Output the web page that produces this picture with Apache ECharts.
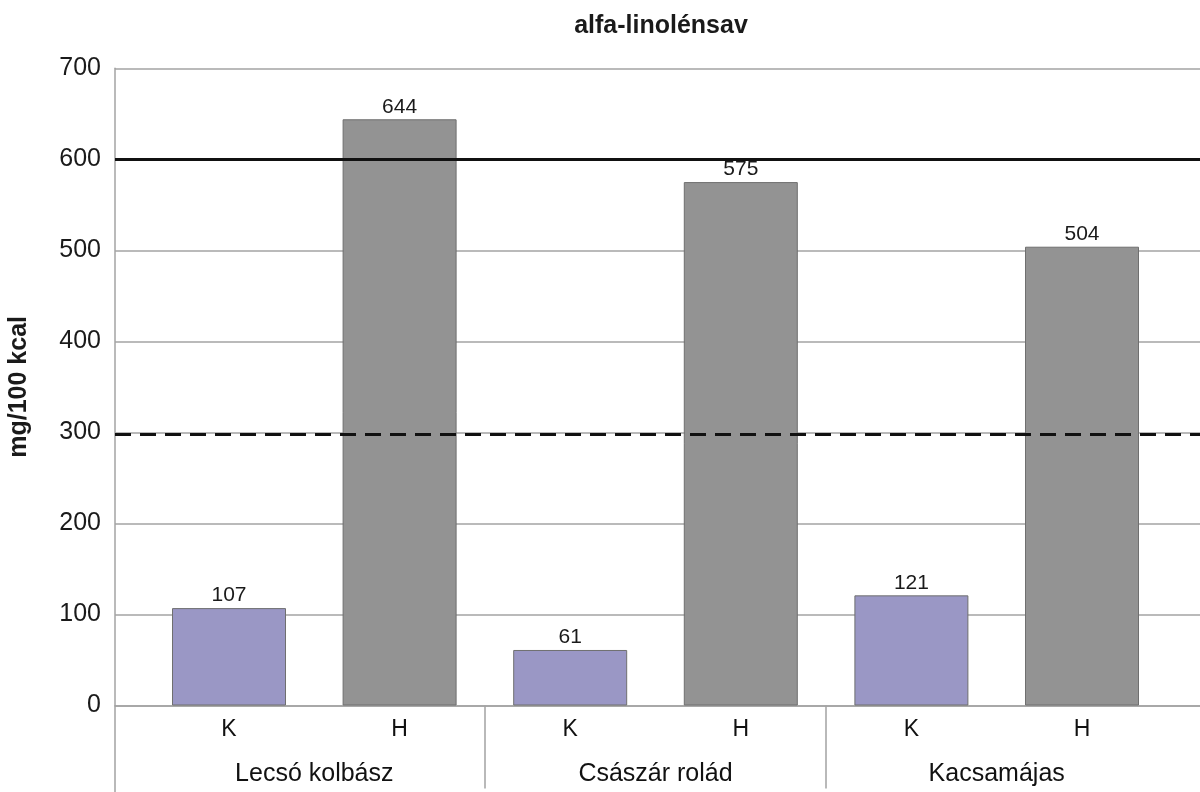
<!DOCTYPE html>
<html>
<head>
<meta charset="utf-8">
<script src="https://cdn.jsdelivr.net/npm/echarts@6/dist/echarts.min.js"></script>
<style>
  html, body { margin: 0; padding: 0; background: #fff; }
  #chart { width: 1200px; height: 792px; }
</style>
</head>
<body>
<div id="chart"></div>
<script>
// alfa-linolénsav tartalom, mg/100 kcal
const groups = ['Lecsó kolbász', 'Császár rolád', 'Kacsamájas'];
const subCategories = ['K', 'H', 'K', 'H', 'K', 'H'];
const values = [107, 644, 61, 575, 121, 504];
const referenceLevels = [600, 298];   // solid, dashed
const yTicks = { min: 0, max: 700, step: 100 };

const FONT = '"Liberation Sans", Arial, Helvetica, sans-serif';
const TOP = 68.3, HEIGHT = 637.2;
const SLOT_LEFT = 143.7, SLOT_W = 170.6;   // one bar slot
const GROUP_W = SLOT_W * 2;

const chart = echarts.init(document.getElementById('chart'), null, { renderer: 'canvas' });

const hiddenY = (gi) => ({
  type: 'value', gridIndex: gi, min: yTicks.min, max: yTicks.max, interval: yTicks.step, show: false
});
const gridBase = { top: TOP, height: HEIGHT, containLabel: false, outerBoundsMode: 'none' };

chart.setOption({
  backgroundColor: '#ffffff',
  animation: false,
  title: {
    text: 'alfa-linolénsav',
    left: 656, top: 9, textAlign: 'center',
    textStyle: { fontFamily: FONT, fontSize: 25, fontWeight: 'bold', color: '#1a1a1a' }
  },
  grid: [
    // frame: axis, gridlines, reference lines
    Object.assign({ left: 115, right: -5 }, gridBase),
    // bars
    Object.assign({ left: SLOT_LEFT, width: SLOT_W * subCategories.length }, gridBase),
    // group labels and separators (one spare slot on the right, off canvas)
    Object.assign({ left: SLOT_LEFT, width: GROUP_W * (groups.length + 1) }, gridBase)
  ],
  xAxis: [
    {
      type: 'category', gridIndex: 0, data: [''],
      axisLine: { show: true, lineStyle: { color: '#a3a3a3', width: 1.5 } },
      axisTick: { show: true, length: 88, lineStyle: { color: '#a3a3a3', width: 1.5 } },
      axisLabel: { show: false }, splitLine: { show: false }
    },
    {
      type: 'category', gridIndex: 1, data: subCategories,
      axisLine: { show: false }, axisTick: { show: false },
      axisLabel: { fontFamily: FONT, fontSize: 23, color: '#111', margin: 13 }
    },
    {
      type: 'category', gridIndex: 2, data: groups.concat(['']),
      axisLine: { show: false },
      axisTick: {
        show: true, length: 83,
        interval: (i) => i > 0 && i < groups.length,
        lineStyle: { color: '#a3a3a3', width: 1.5 }
      },
      axisLabel: { fontFamily: FONT, fontSize: 25, color: '#111', margin: 56 }
    }
  ],
  yAxis: [
    {
      type: 'value', gridIndex: 0, min: yTicks.min, max: yTicks.max, interval: yTicks.step,
      name: 'mg/100 kcal', nameLocation: 'middle', nameRotate: 90, nameGap: 83,
      nameTextStyle: { fontFamily: FONT, fontSize: 25, fontWeight: 'bold', color: '#1a1a1a' },
      axisLine: { show: true, lineStyle: { color: '#a3a3a3', width: 1.5 } },
      axisTick: { show: false },
      axisLabel: { fontFamily: FONT, fontSize: 25, color: '#1a1a1a', margin: 14 },
      splitLine: { show: true, lineStyle: { color: '#a3a3a3', width: 1.5 } }
    },
    hiddenY(1),
    hiddenY(2)
  ],
  series: [
    {
      type: 'bar', xAxisIndex: 1, yAxisIndex: 1,
      data: values,
      barWidth: 114,
      itemStyle: {
        color: (p) => subCategories[p.dataIndex] === 'K' ? '#9a97c5' : '#939393',
        borderColor: '#6f6f6f', borderWidth: 1
      },
      label: {
        show: true, position: 'top', distance: 2,
        fontFamily: FONT, fontSize: 21, color: '#1a1a1a'
      },
      z: 2
    },
    {
      type: 'line', xAxisIndex: 0, yAxisIndex: 0, data: [],
      z: 5,
      markLine: {
        silent: true, symbol: 'none', label: { show: false },
        data: [
          { yAxis: referenceLevels[0], lineStyle: { color: '#111', width: 3, type: 'solid' } },
          { yAxis: referenceLevels[1], lineStyle: { color: '#111', width: 3, type: [16, 9] } }
        ]
      }
    }
  ]
});
</script>
</body>
</html>
